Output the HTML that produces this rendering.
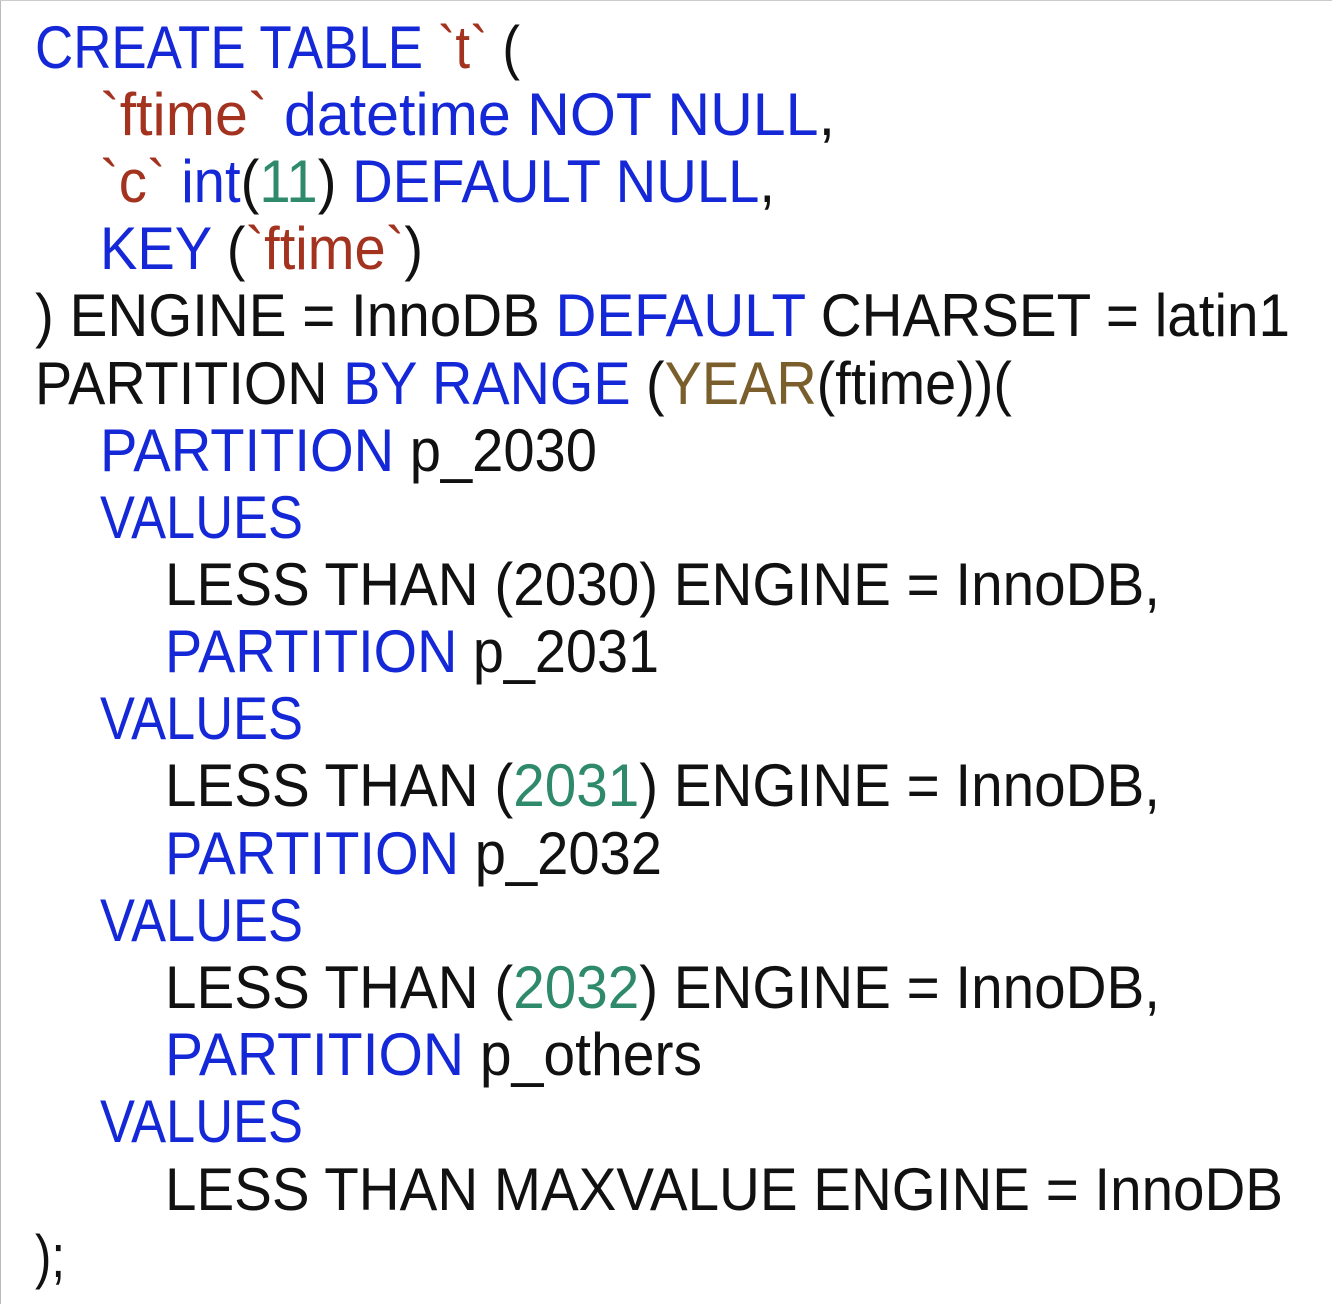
<!DOCTYPE html>
<html><head><meta charset="utf-8"><style>
html,body{margin:0;padding:0;background:#fff;}
svg{display:block;}
text{font-family:"Liberation Sans",sans-serif;font-size:60px;fill:#111;}
.k{fill:#1428d8}.s{fill:#a3321f}.n{fill:#2e8a6a}.f{fill:#7a5f2c}
</style></head><body>
<svg width="1332" height="1304" viewBox="0 0 1332 1304">
<rect x="0" y="0" width="1332" height="1304" fill="#fff"/>
<line x1="0.5" y1="0" x2="0.5" y2="1304" stroke="#bbb" stroke-width="1"/>
<line x1="0" y1="0.5" x2="1332" y2="0.5" stroke="#ccc" stroke-width="1"/>
<text x="35" y="68" textLength="485" lengthAdjust="spacingAndGlyphs"><tspan class="k">CREATE TABLE</tspan> <tspan class="s">`t`</tspan> (</text>
<text x="100" y="135" textLength="735" lengthAdjust="spacingAndGlyphs"><tspan class="s">`ftime`</tspan> <tspan class="k">datetime NOT NULL</tspan>,</text>
<text x="100" y="202" textLength="675" lengthAdjust="spacingAndGlyphs"><tspan class="s">`c`</tspan> <tspan class="k">int</tspan>(<tspan class="n">11</tspan>) <tspan class="k">DEFAULT NULL</tspan>,</text>
<text x="100" y="269" textLength="323" lengthAdjust="spacingAndGlyphs"><tspan class="k">KEY</tspan> (<tspan class="s">`ftime`</tspan>)</text>
<text x="35" y="336" textLength="1255" lengthAdjust="spacingAndGlyphs">) ENGINE = InnoDB <tspan class="k">DEFAULT</tspan> CHARSET = latin1</text>
<text x="35" y="404" textLength="977" lengthAdjust="spacingAndGlyphs">PARTITION <tspan class="k">BY RANGE</tspan> (<tspan class="f">YEAR</tspan>(ftime))(</text>
<text x="100" y="471" textLength="497" lengthAdjust="spacingAndGlyphs"><tspan class="k">PARTITION</tspan> p_2030</text>
<text x="100" y="538" textLength="203" lengthAdjust="spacingAndGlyphs" class="k">VALUES</text>
<text x="165" y="605" textLength="995" lengthAdjust="spacingAndGlyphs">LESS THAN (2030) ENGINE = InnoDB,</text>
<text x="165" y="672" textLength="494" lengthAdjust="spacingAndGlyphs"><tspan class="k">PARTITION</tspan> p_2031</text>
<text x="100" y="739" textLength="203" lengthAdjust="spacingAndGlyphs" class="k">VALUES</text>
<text x="165" y="806" textLength="995" lengthAdjust="spacingAndGlyphs">LESS THAN (<tspan class="n">2031</tspan>) ENGINE = InnoDB,</text>
<text x="165" y="874" textLength="497" lengthAdjust="spacingAndGlyphs"><tspan class="k">PARTITION</tspan> p_2032</text>
<text x="100" y="941" textLength="203" lengthAdjust="spacingAndGlyphs" class="k">VALUES</text>
<text x="165" y="1008" textLength="995" lengthAdjust="spacingAndGlyphs">LESS THAN (<tspan class="n">2032</tspan>) ENGINE = InnoDB,</text>
<text x="165" y="1075" textLength="537" lengthAdjust="spacingAndGlyphs"><tspan class="k">PARTITION</tspan> p_others</text>
<text x="100" y="1142" textLength="203" lengthAdjust="spacingAndGlyphs" class="k">VALUES</text>
<text x="165" y="1210" textLength="1118" lengthAdjust="spacingAndGlyphs">LESS THAN MAXVALUE ENGINE = InnoDB</text>
<text x="35" y="1277" textLength="30" lengthAdjust="spacingAndGlyphs">);</text>
</svg>
</body></html>
